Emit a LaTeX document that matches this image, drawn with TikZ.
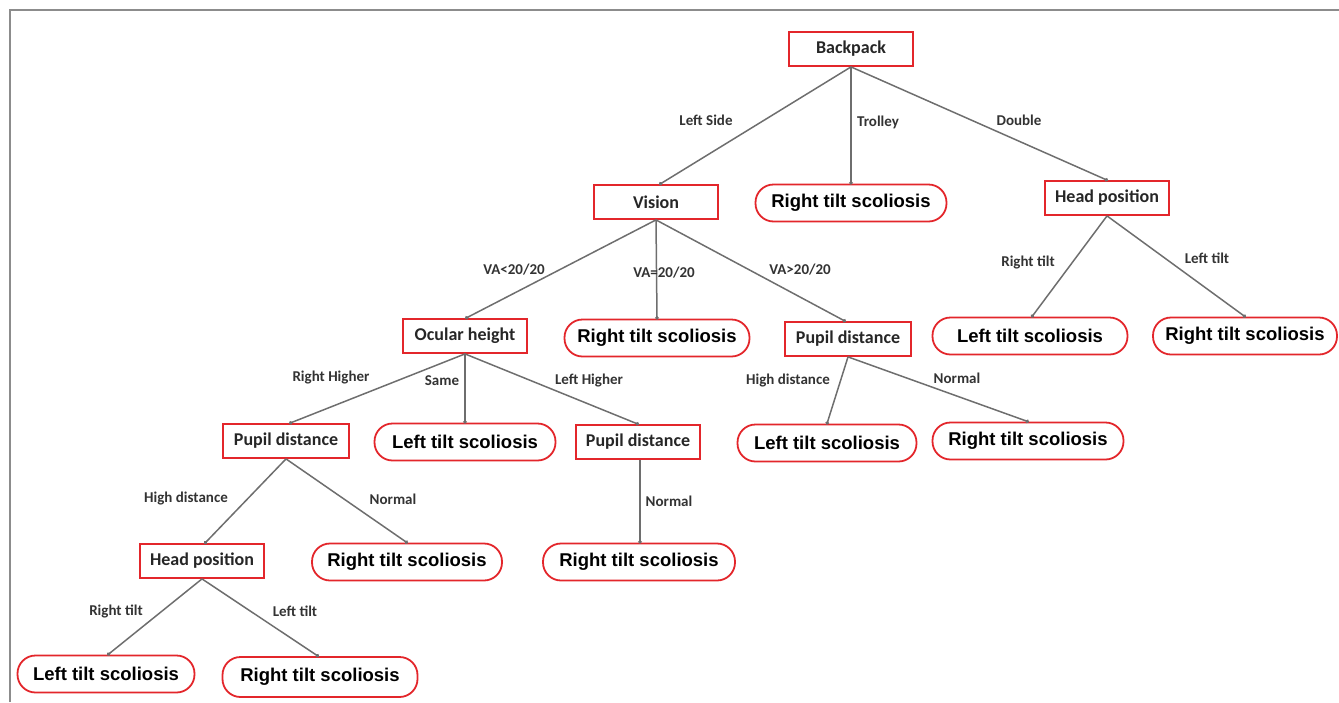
\documentclass[tikz,border=0pt]{standalone}
\usepackage{fontspec}
\setmainfont{Carlito}
\newfontfamily\ellfont{Liberation Sans}
\usetikzlibrary{arrows.meta}
\definecolor{boxred}{HTML}{E3262B}
\definecolor{linegray}{HTML}{6E6E6E}
\definecolor{framegray}{HTML}{8C8C8C}
\tikzset{
  rbox/.style={draw=boxred, line width=1.8pt, fill=white, minimum width=124pt, minimum height=34pt,
    inner sep=0pt, font=\fontsize{18}{20}\selectfont\bfseries, text=black!85},
  rell/.style={draw=boxred, line width=1.8pt, fill=white, rounded corners=18pt, minimum height=37pt,
    minimum width=190pt, inner sep=0pt, font=\ellfont\fontsize{18.5}{20}\selectfont\bfseries, text=black},
  conn/.style={draw=linegray, line width=1.5pt, -{Circle[length=3.5pt, fill=black!80]}, shorten >=-1pt},
  elab/.style={font=\fontsize{15}{17}\selectfont\bfseries, text=black!80, inner sep=0pt}
}
\begin{document}
\begin{tikzpicture}[x=1pt,y=-1pt]
\useasboundingbox (0,0) rectangle (1339,702);
\draw[framegray, line width=2pt] (10,702) -- (10,10) -- (1339,10);

% nodes
\node[rbox] (bp) at (851,49) {Backpack};
\node[rbox] (vis) at (656,202) {Vision};
\node[rell, minimum width=191pt] (rt1) at (851,203) {Right tilt scoliosis};
\node[rbox] (hp1) at (1107,198) {Head position};
\node[rbox] (oc) at (465,336) {Ocular height};
\node[rell, minimum width=185pt] (rt2) at (657,338) {Right tilt scoliosis};
\node[rbox, minimum width=126pt] (pd1) at (848,339) {Pupil distance};
\node[rell, minimum width=195pt] (lt1) at (1030,336) {Left tilt scoliosis};
\node[rell, minimum width=184pt] (rt3) at (1245,336) {Right tilt scoliosis};
\node[rbox, minimum width=126pt] (pd2) at (286,441) {Pupil distance};
\node[rell, minimum width=181pt] (lt2) at (465,442) {Left tilt scoliosis};
\node[rbox] (pd3) at (638,442) {Pupil distance};
\node[rell, minimum width=179pt] (lt3) at (827,443) {Left tilt scoliosis};
\node[rell, minimum width=191pt] (rt4) at (1028,441) {Right tilt scoliosis};
\node[rbox] (hp2) at (202,561) {Head position};
\node[rell, minimum width=190pt] (rt5) at (407,562) {Right tilt scoliosis};
\node[rell, minimum width=192pt] (rt6) at (639,562) {Right tilt scoliosis};
\node[rell, minimum width=177pt] (lt4) at (106,674) {Left tilt scoliosis};
\node[rell, minimum width=195pt, minimum height=40pt] (rt7) at (320,677) {Right tilt scoliosis};

% connectors
\draw[conn] (bp.south) -- ([xshift=4pt]vis.north);
\draw[conn] (bp.south) -- (rt1.north);
\draw[conn] (bp.south) -- (hp1.north);
\draw[conn] (vis.south) -- ([xshift=1pt]oc.north);
\draw[conn] (vis.south) -- (rt2.north);
\draw[conn] (vis.south) -- ([xshift=-3pt]pd1.north);
\draw[conn] (hp1.south) -- ([xshift=2pt]lt1.north);
\draw[conn] (hp1.south) -- (rt3.north);
\draw[conn] (oc.south) -- ([xshift=4pt]pd2.north);
\draw[conn] (oc.south) -- (lt2.north);
\draw[conn] (oc.south) -- (pd3.north);
\draw[conn] (pd1.south) -- (lt3.north);
\draw[conn] (pd1.south) -- (rt4.north);
\draw[conn] (pd2.south) -- ([xshift=3pt]hp2.north);
\draw[conn] (pd2.south) -- (rt5.north);
\draw[conn] ([xshift=2pt]pd3.south) -- ([xshift=1pt]rt6.north);
\draw[conn] (hp2.south) -- ([xshift=2pt]lt4.north);
\draw[conn] (hp2.south) -- ([xshift=-2pt]rt7.north);

% edge labels
\node[elab] (l1) at (706,120) {Left Side};
\node[elab] (l2) at (878,122) {Trolley};
\node[elab] (l3) at (1019,120) {Double};
\node[elab] (l4) at (514,270) {VA<20/20};
\node[elab] (l5) at (664,273) {VA=20/20};
\node[elab] (l6) at (800,270) {VA>20/20};
\node[elab] (l7) at (1028,262) {Right tilt};
\node[elab] (l8) at (1207,258) {Left tilt};
\node[elab] (l9) at (331,378) {Right Higher};
\node[elab] (l10) at (442,381) {Same};
\node[elab] (l11) at (589,381) {Left Higher};
\node[elab] (l12) at (788,381) {High distance};
\node[elab] (l13) at (957,378) {Normal};
\node[elab] (l14) at (186,498) {High distance};
\node[elab] (l15) at (393,499) {Normal};
\node[elab] (l16) at (669,501) {Normal};
\node[elab] (l17) at (116,611) {Right tilt};
\node[elab] (l18) at (295,611) {Left tilt};
\end{tikzpicture}
\end{document}
